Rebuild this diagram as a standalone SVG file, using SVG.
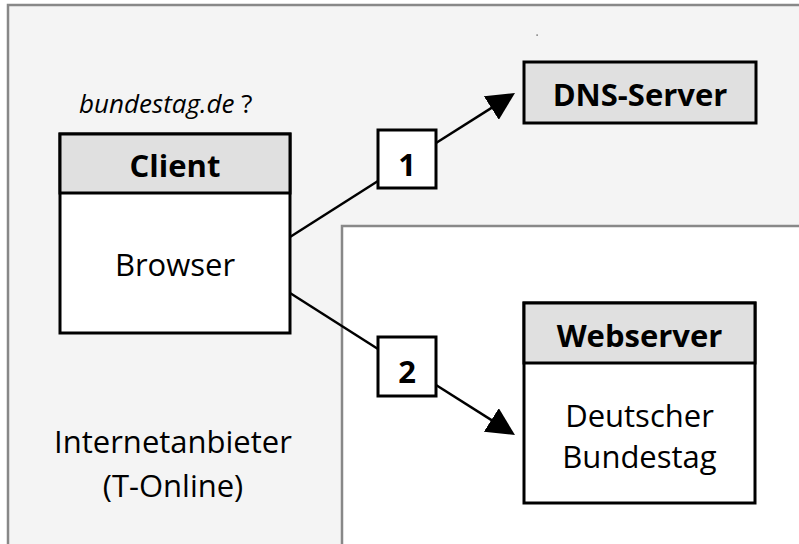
<svg xmlns="http://www.w3.org/2000/svg" width="799" height="544" viewBox="0 0 799 544">
<style>
.region{fill:#f4f4f4;stroke:#888;stroke-width:2.5}
.box{fill:#fff;stroke:#000;stroke-width:3}
.head{fill:#e0e0e0;stroke:#000;stroke-width:3}
.conn{fill:none;stroke:#000;stroke-width:2.5}
.t{font-family:"Open Sans","Noto Sans","Liberation Sans",sans-serif;fill:#000;text-anchor:middle}
.b{font-weight:700;font-size:31px}
.r{font-size:31px}
.i{font-style:italic;font-size:26px;text-anchor:start}
</style>
<defs>
<marker id="arr" viewBox="0 0 28 28" refX="18" refY="14" markerWidth="28" markerHeight="28" markerUnits="userSpaceOnUse" orient="auto">
<path d="M0,0 L28,14 L0,28 z" fill="#000"/>
</marker>
</defs>
<g id="provider">
<polygon class="region" points="8,5 802,5 802,226 342,226 342,547 8,547"/>
<rect x="536.5" y="34.5" width="1.2" height="1.2" fill="#333"/>
<text class="t r" x="173" y="453">Internetanbieter</text>
<text class="t r" x="173" y="497">(T-Online)</text>
</g>
<g id="connectors">
<polyline class="conn" points="290,237 378,181"/>
<line class="conn" x1="436" y1="143" x2="506.55" y2="98.35" marker-end="url(#arr)"/>
<polyline class="conn" points="290,293 378,349"/>
<line class="conn" x1="436" y1="385" x2="506.55" y2="429.65" marker-end="url(#arr)"/>
</g>
<g id="client">
<text class="t i" x="79" y="113">bundestag.de <tspan font-style="normal">?</tspan></text>
<rect class="box" x="60" y="134" width="230" height="199"/>
<rect class="head" x="60" y="134" width="230" height="59"/>
<text class="t b" x="175" y="177">Client</text>
<text class="t r" x="175" y="276">Browser</text>
</g>
<g id="step1">
<rect class="box" x="378" y="130" width="58" height="58"/>
<text class="t b" x="407" y="176">1</text>
</g>
<g id="step2">
<rect class="box" x="378" y="337" width="58" height="59"/>
<text class="t b" x="407" y="383">2</text>
</g>
<g id="dns">
<rect class="head" x="524" y="62" width="232" height="61"/>
<text class="t b" x="640" y="106">DNS-Server</text>
</g>
<g id="webserver">
<rect class="box" x="524" y="303" width="231" height="200"/>
<rect class="head" x="524" y="303" width="231" height="60"/>
<text class="t b" x="639.5" y="347">Webserver</text>
<text class="t r" x="639.5" y="427">Deutscher</text>
<text class="t r" x="639.5" y="468">Bundestag</text>
</g>
</svg>
